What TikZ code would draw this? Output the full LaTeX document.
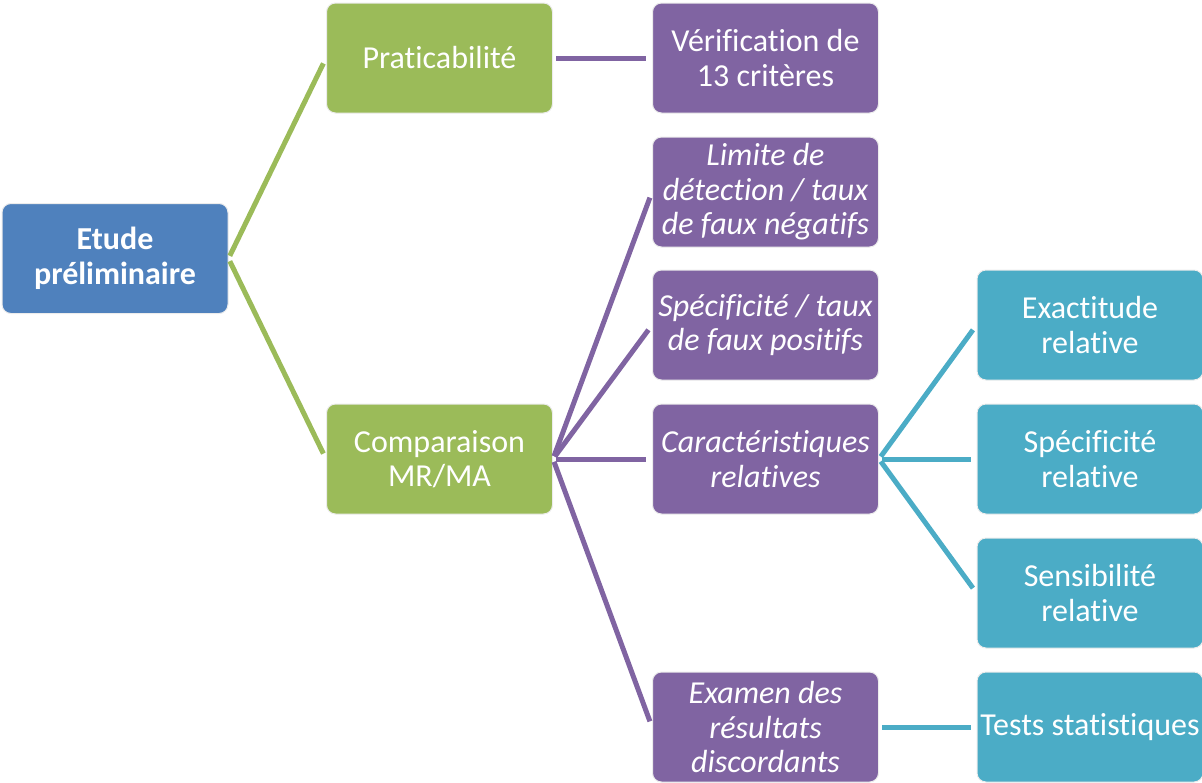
\documentclass[tikz,border=0pt]{standalone}
\usepackage{fontspec}
\setmainfont{Carlito}[Ligatures={NoCommon}]
\definecolor{cblue}{HTML}{4F81BD}
\definecolor{cgreen}{HTML}{9BBB59}
\definecolor{cpurple}{HTML}{8064A2}
\definecolor{cteal}{HTML}{4BACC6}
\begin{document}
\begin{tikzpicture}[x=1pt,y=-1pt,
  box/.style={rounded corners=9pt, draw=white!85!gray, line width=1pt, minimum width=226pt, minimum height=110pt, inner sep=0pt, align=center, text=white, font=\fontsize{32}{34.5}\selectfont},
  bluebox/.style={box, fill=cblue, font=\fontsize{32}{35.5}\selectfont\bfseries},
  greenbox/.style={box, fill=cgreen},
  purplebox/.style={box, fill=cpurple},
  ibox/.style={purplebox, font=\fontsize{32}{34.5}\selectfont\itshape},
  tealbox/.style={box, fill=cteal},
  conn/.style={line width=5pt, shorten <=3pt, shorten >=6pt},
  gconn/.style={conn, draw=cgreen},
  pconn/.style={conn, draw=cpurple},
  tconn/.style={conn, draw=cteal}]
\useasboundingbox (0,0) rectangle (1202,782);
\node[bluebox] (E) at (115,258.5) {Etude\\préliminaire};
\node[greenbox] (P) at (439.5,58) {Praticabilité};
\node[greenbox] (C) at (439.5,459) {Comparaison\\MR/MA};
\node[purplebox] (V) at (765.5,58) {Vérification de\\13 critères};
\node[ibox] (L) at (765.5,192) {Limite de\\détection / taux\\de faux négatifs};
\node[ibox] (S) at (765.5,325) {Spécificité / taux\\de faux positifs};
\node[ibox] (R) at (765.5,459) {Caractéristiques\\relatives};
\node[ibox] (X) at (765.5,727) {Examen des\\résultats\\discordants};
\node[tealbox] (T1) at (1090,325) {Exactitude\\relative};
\node[tealbox] (T2) at (1090,459) {Spécificité\\relative};
\node[tealbox] (T3) at (1090,593) {Sensibilité\\relative};
\node[tealbox] (T4) at (1090,727) {Tests statistiques};
\draw[gconn] (E.east) -- (P.west);
\draw[gconn] (E.east) -- (C.west);
\draw[pconn] (P.east) -- (V.west);
\draw[pconn] (C.east) -- (L.west);
\draw[pconn] (C.east) -- (S.west);
\draw[pconn] (C.east) -- (R.west);
\draw[pconn] (C.east) -- (X.west);
\draw[tconn] (R.east) -- (T1.west);
\draw[tconn] (R.east) -- (T2.west);
\draw[tconn] (R.east) -- (T3.west);
\draw[tconn] (X.east) -- (T4.west);
\end{tikzpicture}
\end{document}
